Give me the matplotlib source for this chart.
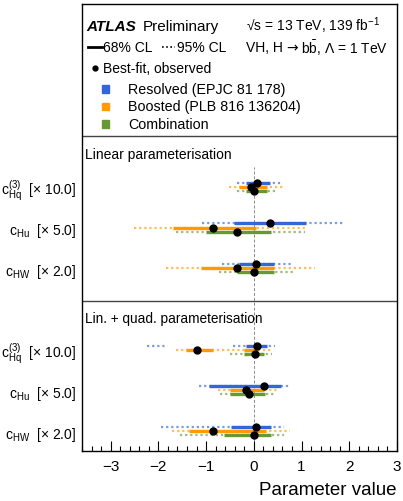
import matplotlib
matplotlib.use('Agg')
import matplotlib.pyplot as plt
from matplotlib.patches import Rectangle

plt.rcParams['font.family'] = ['Liberation Sans', 'DejaVu Sans']
plt.rcParams['mathtext.fontset'] = 'custom'
plt.rcParams['mathtext.rm'] = 'Liberation Sans'
plt.rcParams['mathtext.it'] = 'Liberation Sans:italic'
plt.rcParams['mathtext.default'] = 'regular'

# rows: linear (cHq3, cHu, cHW), then lin+quad (cHq3, cHu, cHW)
row_labels = [r'$c_{Hq}^{(3)}$  [$\times$ 10.0]', r'$c_{Hu}$  [$\times$ 5.0]', r'$c_{HW}$  [$\times$ 2.0]']
row_pos = [0, 1, 2, 4, 5, 6]

# Resolved (EPJC 81 178)
res_best = [0.06, 0.33, 0.04, 0.07, 0.22, 0.04]
res_68 = [[(-0.17, 0.33)], [(-0.42, 1.10)], [(-0.31, 0.43)],
          [(-0.17, 0.27)], [(-0.94, 0.56)], [(-0.47, 0.35)]]
res_95 = [[(-0.36, 0.59)], [(-1.09, 1.92)], [(-0.66, 0.78)],
          [(-2.24, -1.83), (-0.43, 0.45)], [(-1.15, 0.75)], [(-1.94, 0.63)]]

# Boosted (PLB 816 136204)
boo_best = [-0.05, -0.86, -0.36, -1.20, -0.16, -0.85]
boo_68 = [[(-0.31, 0.28)], [(-1.69, 0.05)], [(-1.10, 0.43)],
          [(-1.43, -0.85), (-0.21, 0.07)], [(-0.50, 0.21)], [(-1.35, 0.25)]]
boo_95 = [[(-0.52, 0.63)], [(-2.51, 1.07)], [(-1.83, 1.29)],
          [(-1.62, 0.38)], [(-0.75, 0.50)], [(-1.72, 0.75)]]

# Combination
comb_best = [0.00, -0.35, 0.01, 0.02, -0.10, 0.01]
comb_68 = [[(-0.17, 0.27)], [(-1.00, 0.35)], [(-0.35, 0.42)],
           [(-0.21, 0.22)], [(-0.49, 0.23)], [(-0.63, 0.35)]]
comb_95 = [[(-0.36, 0.45)], [(-1.64, 1.08)], [(-0.73, 0.82)],
           [(-0.50, 0.38)], [(-0.70, 0.47)], [(-1.55, 0.63)]]

fits = [
    ('Resolved (EPJC 81 178)', '#3366d6', res_best, res_68, res_95, -0.1),
    ('Boosted (PLB 816 136204)', '#ff9a00', boo_best, boo_68, boo_95, 0.0),
    ('Combination', '#669933', comb_best, comb_68, comb_95, 0.1),
]

fig = plt.figure(figsize=(4.03, 5.02), dpi=100)
ax = fig.add_axes([0.2035, 0.0996, 0.7815, 0.8904])

ax.axvline(0, ymin=0, ymax=0.635, color='#888888', lw=0.7, ls=(0, (3, 2)), zorder=1)

for name, col, best, ci68, ci95, off in fits:
    for k, y in enumerate(row_pos):
        for lo, hi in ci95[k]:
            ax.plot([lo, hi], [y + off] * 2, color=col, alpha=0.65, lw=1.6,
                    ls=(0, (1, 1.3)), solid_capstyle='butt', zorder=2)
        for lo, hi in ci68[k]:
            ax.plot([lo, hi], [y + off] * 2, color=col, lw=2.4,
                    solid_capstyle='butt', zorder=3)
        ax.plot(best[k], y + off, 'o', color='black', ms=5, zorder=4)

ax.set_xlim(-3.6, 3.0)
ax.set_ylim(6.49, -4.49)
ax.set_xticks(range(-3, 4))
ax.set_xticklabels(['\u22123', '\u22122', '\u22121', '0', '1', '2', '3'])
ax.set_xticks([x / 5 for x in range(-18, 16)], minor=True)
ax.tick_params(axis='x', which='major', direction='in', length=7.5, width=0.8, labelsize=11, pad=5.5)
ax.tick_params(axis='x', which='minor', direction='in', length=3.6, width=0.8)
ax.set_yticks(row_pos)
ax.set_yticklabels(row_labels * 2)
ax.tick_params(axis='y', length=0, labelsize=10, pad=4)
ax.set_xlabel('Parameter value', fontsize=13.5, loc='right', labelpad=6)
for sp in ax.spines.values():
    sp.set_linewidth(1.0)

# panel separators and titles
ax.axhline(-1.25, color='#444444', lw=1.0)
ax.axhline(2.81, color='#444444', lw=1.0)
ax.text(0.0095, 0.664, 'Linear parameterisation', transform=ax.transAxes, fontsize=10, va='center')
ax.text(0.0095, 0.2975, 'Lin. + quad. parameterisation', transform=ax.transAxes, fontsize=9.8, va='center')

# legend block
tr = ax.transAxes
ax.text(0.0127, 0.951, 'ATLAS', transform=tr, fontsize=11, fontweight='bold', style='italic', va='center')
ax.text(0.194, 0.951, 'Preliminary', transform=tr, fontsize=11, va='center')
ax.text(0.52, 0.953, '\u221as = 13 TeV, 139 fb$^{-1}$', transform=tr, fontsize=10, va='center')
ax.plot([0.019, 0.063], [0.903, 0.903], transform=tr, color='black', lw=2)
ax.text(0.067, 0.903, '68% CL', transform=tr, fontsize=10, va='center')
ax.plot([0.254, 0.295], [0.903, 0.903], transform=tr, color='black', lw=1.2, ls=(0, (1, 1.5)))
ax.text(0.302, 0.903, '95% CL', transform=tr, fontsize=10, va='center')
t1 = ax.text(0.52, 0.903, 'VH, H', transform=tr, fontsize=10, va='center')
t2 = ax.annotate('\u2192', xy=(1, 0.5), xycoords=t1, xytext=(2.5, 0), textcoords='offset points',
                 fontsize=10, va='center', family='DejaVu Sans')
ax.annotate('b$\\bar{b}$, \u039b = 1 TeV', xy=(1, 0.5), xycoords=t2, xytext=(2, 0),
            textcoords='offset points', fontsize=10, va='center')
ax.plot(0.041, 0.857, 'o', transform=tr, color='black', ms=3.5)
ax.text(0.067, 0.857, 'Best-fit, observed', transform=tr, fontsize=10, va='center')
for (name, col, *_), yy in zip(fits, [0.81, 0.771, 0.7315]):
    ax.add_patch(Rectangle((0.062, yy - 0.0085), 0.023, 0.017, transform=tr, color=col))
    ax.text(0.147, yy, name, transform=tr, fontsize=10.3, va='center')

fig.savefig('out.png', dpi=100)
